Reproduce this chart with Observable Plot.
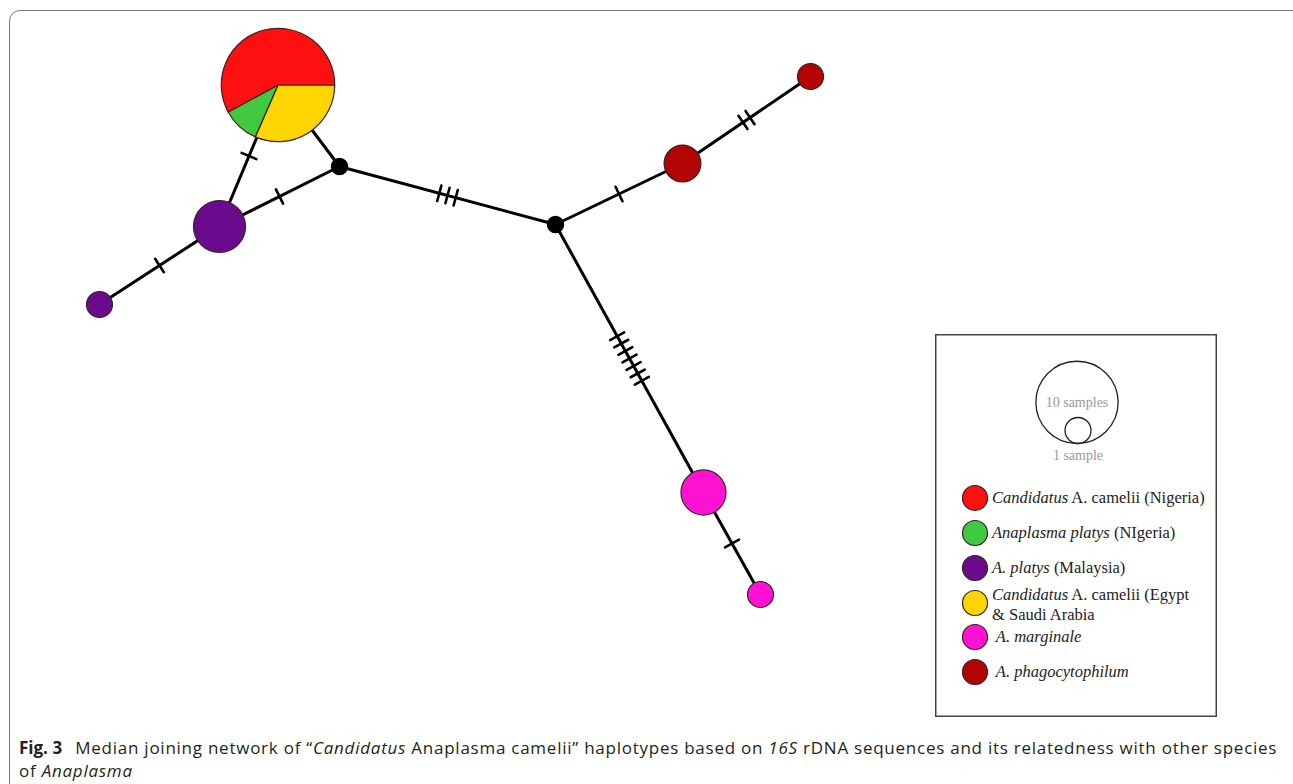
<!DOCTYPE html>
<html><head><meta charset="utf-8">
<script src="https://cdn.jsdelivr.net/npm/d3@7"></script>
<script src="https://cdn.jsdelivr.net/npm/@observablehq/plot@0.6"></script>
<style>
html,body{margin:0;padding:0;background:#fff;overflow:hidden;width:1293px;height:784px}
#wrap{position:relative;width:1293px;height:784px;overflow:hidden}
#chart{position:absolute;left:0;top:0}
#frame{position:absolute;left:9px;top:10px;width:1330px;height:830px;border:1.5px solid #7a7a7a;border-radius:11px;box-sizing:border-box;pointer-events:none}
#legend{position:absolute;left:935px;top:334px}
#caption{position:absolute;left:19px;top:736px;white-space:nowrap;font-family:"Open Sans",sans-serif;font-size:17px;letter-spacing:0.75px;line-height:23px;color:#231f20}
#caption b{font-weight:700;margin-right:8px;letter-spacing:0}
</style>
</head><body><div id="wrap"><div id="chart"></div><div id="legend"></div>
<div id="caption"><b>Fig. 3</b> Median joining network of “<i>Candidatus</i> Anaplasma camelii” haplotypes based on <i>16S</i> rDNA sequences and its relatedness with other species<br>of <i>Anaplasma</i></div>
<div id="frame"></div></div>
<script>
// ---- data ----
const groups = ["Candidatus A. camelii (Nigeria)", "Anaplasma platys (NIgeria)", "A. platys (Malaysia)", "Candidatus A. camelii (Egypt & Saudi Arabia", "A. marginale", "A. phagocytophilum"];
const groupColors = ["#ff1010", "#40c840", "#6a0a8c", "#ffd500", "#ff12d2", "#b30404"];

// haplotype network nodes (layout coordinates), sample counts, group
const nodeIds    = ["H1", "H2", "H3", "H4", "H5", "H6", "H7", "mv1", "mv2"];
const nodeX      = [278, 219, 99, 682, 810, 703, 760, 339, 555];
const nodeY      = [85, 226, 304, 163, 76, 492, 594, 166, 224];
const nodeCount  = [19, 4, 1, 2, 1, 3, 1, 0, 0];
const nodeGroup  = ["mixed", "A. platys (Malaysia)", "A. platys (Malaysia)", "A. phagocytophilum", "A. phagocytophilum", "A. marginale", "A. marginale", "median", "median"];

// composition of the mixed haplotype H1
const pieGroups = ["Candidatus A. camelii (Egypt & Saudi Arabia", "Anaplasma platys (NIgeria)", "Candidatus A. camelii (Nigeria)"];
const pieCounts = [6, 2, 11];

// edges and number of mutations
const edgeFrom      = ["H1", "H1", "H2", "H2", "mv1", "mv2", "H4", "mv2", "H6"];
const edgeTo        = ["H2", "mv1", "mv1", "H3", "mv2", "H4", "H5", "H6", "H7"];
const edgeMutations = [1, 0, 1, 1, 3, 1, 2, 7, 1];

// legend labels: [text, italic]
const legendLabels = [
  [[["Candidatus", true], [" A. camelii (Nigeria)", false]]],
  [[["Anaplasma platys", true], [" (NIgeria)", false]]],
  [[["A. platys", true], [" (Malaysia)", false]]],
  [[["Candidatus", true], [" A. camelii (Egypt", false]], [["& Saudi Arabia", false]]],
  [[[" A. marginale", true]]],
  [[[" A. phagocytophilum", true]]]
];
const sizeLegendCounts = [10, 1];
const sizeLegendLabels = ["10 samples", "1 sample"];

// ---- build ----
const W = 1293, H = 735;
const TICK_LEN = 16, TICK_GAP = 8.5;
const nodes = nodeIds.map((id, i) => ({id, x: nodeX[i], y: nodeY[i], count: nodeCount[i], group: nodeGroup[i]}));
const byId = new Map(nodes.map(d => [d.id, d]));
const edges = edgeFrom.map((f, i) => ({a: byId.get(f), b: byId.get(edgeTo[i]), n: edgeMutations[i]}));
const ticks = [];
for (const e of edges) {
  const dx = e.b.x - e.a.x, dy = e.b.y - e.a.y, L = Math.hypot(dx, dy);
  const ux = dx / L, uy = dy / L, px = -uy, py = ux;
  for (let k = 0; k < e.n; k++) {
    const off = (k - (e.n - 1) / 2) * TICK_GAP;
    const cx = e.a.x + dx * 0.5 + ux * off, cy = e.a.y + dy * 0.5 + uy * off;
    ticks.push({x1: cx - px * TICK_LEN / 2, y1: cy - py * TICK_LEN / 2, x2: cx + px * TICK_LEN / 2, y2: cy + py * TICK_LEN / 2});
  }
}
const pieSlices = pieGroups.map((g, i) => ({group: g, count: pieCounts[i]}));
const pies = nodes.filter(d => d.group === "mixed").map(d => ({x: d.x, y: d.y, total: d.count, slices: pieSlices}));
const rOpts = {type: "sqrt", domain: [0, 19], range: [0, 56.7]};

function pieMark(index, scales) {
  const sx = typeof scales.x === "function" ? scales.x : (v => v);
  const sy = typeof scales.y === "function" ? scales.y : (v => v);
  const sr = typeof scales.r === "function" ? scales.r : Plot.scale({r: rOpts}).apply;
  const sc = typeof scales.color === "function" ? scales.color : (g => groupColors[groups.indexOf(g)]);
  const g = d3.create("svg:g");
  for (const p of pies) {
    const R = sr(p.total);
    const arcs = d3.pie().sort(null).value(d => d.count).startAngle(Math.PI / 2).endAngle(Math.PI / 2 + 2 * Math.PI)(p.slices);
    g.append("g").attr("transform", `translate(${sx(p.x)},${sy(p.y)})`)
      .selectAll("path").data(arcs).join("path")
      .attr("d", d3.arc().innerRadius(0).outerRadius(R))
      .attr("fill", d => sc(d.data.group))
      .attr("stroke", "#3a2020").attr("stroke-width", 1.2).attr("stroke-linejoin", "round");
  }
  return g.node();
}

const chart = Plot.plot({
  width: W, height: H, margin: 0,
  style: {background: "white"},
  x: {domain: [0, W], range: [0, W], axis: null},
  y: {domain: [0, H], range: [0, H], axis: null},
  r: rOpts,
  color: {domain: groups, range: groupColors},
  marks: [
    Plot.link(edges, {x1: d => d.a.x, y1: d => d.a.y, x2: d => d.b.x, y2: d => d.b.y, stroke: "black", strokeWidth: 3}),
    Plot.link(ticks, {x1: "x1", y1: "y1", x2: "x2", y2: "y2", stroke: "black", strokeWidth: 2.6, strokeLinecap: "round"}),
    Plot.dot(nodes.filter(d => d.group === "median"), {x: "x", y: "y", r: 8, fill: "black", stroke: "black"}),
    Plot.dot(nodes.filter(d => groups.includes(d.group)), {x: "x", y: "y", r: "count", fill: "group", stroke: "#3a2020", strokeWidth: 1.2}),
    pieMark
  ]
});
document.getElementById("chart").appendChild(chart);

// ---- legend ----
const rScale = Plot.scale({r: rOpts});
const LW = 282, LH = 383;
const lg = d3.select("#legend").append("svg").attr("width", LW).attr("height", LH)
  .style("font-family", "'Liberation Serif', 'DejaVu Serif', serif");
lg.append("rect").attr("x", 0.75).attr("y", 0.75).attr("width", LW - 1.5).attr("height", LH - 1.5)
  .attr("fill", "white").attr("stroke", "#444").attr("stroke-width", 1.5);
const bigR = rScale.apply(sizeLegendCounts[0]), smallR = rScale.apply(sizeLegendCounts[1]);
const scx = 142, bottom = 109.5;
lg.append("circle").attr("cx", scx).attr("cy", bottom - bigR).attr("r", bigR).attr("fill", "none").attr("stroke", "#222").attr("stroke-width", 1.3);
lg.append("circle").attr("cx", scx + 1).attr("cy", bottom - smallR).attr("r", smallR).attr("fill", "none").attr("stroke", "#222").attr("stroke-width", 1.3);
lg.append("text").attr("x", scx).attr("y", bottom - bigR + 5).attr("text-anchor", "middle").attr("font-size", 14).attr("fill", "#999").text(sizeLegendLabels[0]);
lg.append("text").attr("x", scx + 1).attr("y", bottom + 16).attr("text-anchor", "middle").attr("font-size", 14).attr("fill", "#999").text(sizeLegendLabels[1]);

const rowY = [164, 199, 234, 269, 303, 338];
legendLabels.forEach((lines, i) => {
  const cy = rowY[i];
  lg.append("circle").attr("cx", 40).attr("cy", cy).attr("r", 12.5)
    .attr("fill", groupColors[i]).attr("stroke", "#3a2020").attr("stroke-width", 1.2);
  const baseY = lines.length === 1 ? cy + 5 : cy - 3;
  lines.forEach((parts, j) => {
    const t = lg.append("text").attr("x", 57).attr("y", baseY + j * 20).attr("font-size", 16.5).attr("fill", "#222").attr("xml:space", "preserve").style("white-space", "pre");
    parts.forEach(([s, it]) => t.append("tspan").attr("font-style", it ? "italic" : "normal").text(s));
  });
});
</script>
</body></html>
